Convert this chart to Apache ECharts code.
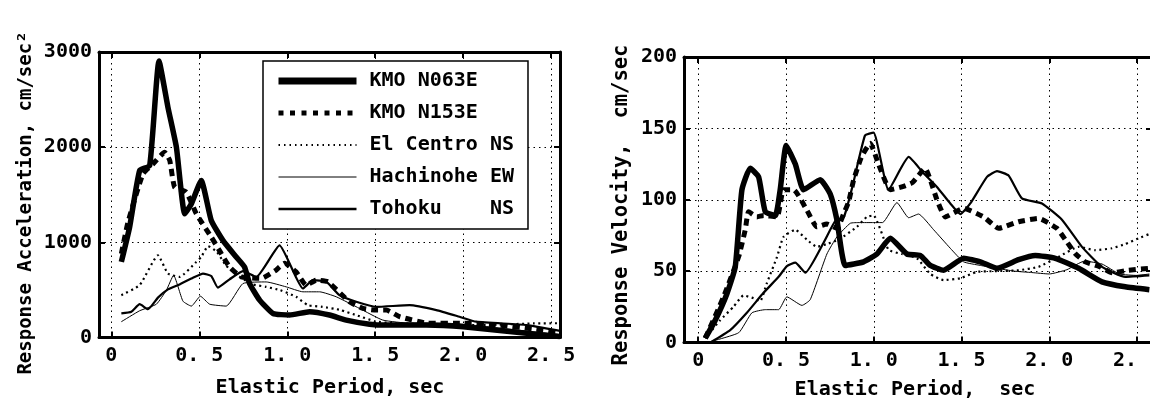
<!DOCTYPE html>
<html>
<head>
<meta charset="utf-8">
<script src="https://cdn.jsdelivr.net/npm/echarts@6/dist/echarts.min.js"></script>
<style>
html, body { margin: 0; padding: 0; background: #fff; }
#main { width: 1150px; height: 408px; }
</style>
</head>
<body>
<div id="main"></div>
<script>
// 周期轴刻度
var periodTicks = [0, 0.5, 1.0, 1.5, 2.0, 2.5];
var names = ['KMO N063E', 'KMO N153E', 'El Centro NS', 'Hachinohe EW', 'Tohoku    NS'];

// 加速度反应谱 (cm/sec2)
var kmo063A_T = [0.057, 0.104, 0.161, 0.218, 0.271, 0.322, 0.37, 0.417, 0.455, 0.511, 0.568, 0.634, 0.71, 0.757, 0.786, 0.843, 0.919, 1.013, 1.127, 1.24, 1.335, 1.468, 1.562, 1.79, 2.0, 2.36, 2.55];
var kmo063A = [794, 1160, 1754, 1806, 2906, 2417, 1998, 1300, 1405, 1649, 1230, 1021, 846, 741, 567, 393, 253, 236, 271, 236, 183, 140, 131, 131, 113, 44, 10];
var kmo153A_T = [0.057, 0.095, 0.18, 0.237, 0.303, 0.332, 0.36, 0.426, 0.483, 0.568, 0.625, 0.672, 0.739, 0.852, 0.93, 0.985, 1.05, 1.108, 1.165, 1.23, 1.354, 1.43, 1.506, 1.563, 1.64, 1.8, 2.0, 2.2, 2.4, 2.55];
var kmo153A = [880, 1213, 1719, 1824, 1946, 1861, 1579, 1527, 1300, 1056, 881, 742, 637, 621, 700, 780, 690, 550, 602, 585, 375, 306, 288, 288, 218, 150, 150, 130, 90, 50];
var centroA_T = [0.057, 0.161, 0.265, 0.322, 0.388, 0.483, 0.511, 0.55, 0.6, 0.65, 0.72, 0.8, 0.88, 0.96, 1.05, 1.117, 1.2, 1.3, 1.4, 1.5, 1.6, 1.8, 2.0, 2.2, 2.4, 2.55];
var centroA = [445, 550, 864, 672, 637, 794, 846, 960, 900, 760, 650, 560, 532, 497, 428, 340, 322, 290, 230, 170, 150, 140, 130, 135, 148, 150];
var hachiA_T = [0.057, 0.161, 0.256, 0.313, 0.354, 0.407, 0.455, 0.506, 0.559, 0.653, 0.748, 0.88, 0.994, 1.089, 1.184, 1.278, 1.41, 1.543, 1.7, 1.9, 2.0, 2.2, 2.4, 2.55];
var hachiA = [166, 281, 350, 497, 654, 382, 330, 434, 350, 330, 567, 584, 532, 480, 480, 428, 306, 183, 150, 150, 140, 100, 60, 30];
var tohokuA_T = [0.057, 0.114, 0.161, 0.208, 0.265, 0.322, 0.388, 0.464, 0.521, 0.568, 0.606, 0.672, 0.748, 0.824, 0.956, 1.089, 1.146, 1.222, 1.297, 1.392, 1.506, 1.695, 1.847, 1.979, 2.074, 2.36, 2.55];
var tohokuA = [253, 271, 350, 297, 419, 506, 558, 628, 672, 646, 524, 611, 698, 637, 969, 515, 602, 585, 445, 375, 322, 340, 288, 218, 166, 131, 70];

// 速度反应谱 (cm/sec)
var kmo063V_T = [0.04, 0.097, 0.163, 0.211, 0.249, 0.296, 0.344, 0.382, 0.439, 0.467, 0.501, 0.553, 0.6, 0.695, 0.752, 0.79, 0.838, 0.942, 1.018, 1.094, 1.189, 1.265, 1.322, 1.398, 1.512, 1.607, 1.702, 1.825, 1.92, 2.034, 2.167, 2.3, 2.433, 2.57];
var kmo063V = [3, 15.6, 34, 53, 107, 122, 116, 91.6, 89, 107, 138, 125, 107, 114, 104, 86, 54, 56.5, 62, 73, 62, 61, 54, 50.6, 59, 56.5, 52, 58, 61, 59, 52, 42.5, 39, 37];
var kmo153V_T = [0.04, 0.144, 0.23, 0.268, 0.287, 0.334, 0.373, 0.449, 0.486, 0.543, 0.619, 0.676, 0.733, 0.79, 0.828, 0.857, 0.885, 0.93, 0.98, 1.027, 1.094, 1.16, 1.22, 1.293, 1.322, 1.36, 1.408, 1.512, 1.626, 1.711, 1.825, 1.939, 2.043, 2.1, 2.15, 2.205, 2.29, 2.357, 2.452, 2.57];
var kmo153V = [3, 31.9, 60, 79, 91.6, 88, 89, 88, 107, 107, 92.7, 81, 83, 80, 90, 98.6, 113.7, 130, 139.5, 125, 107, 109, 112, 122, 114, 100, 88, 94, 88, 80, 84.6, 86.9, 80, 70.5, 62, 56.5, 53, 48.8, 50.6, 52];
var centroV_T = [0.04, 0.125, 0.201, 0.258, 0.315, 0.353, 0.391, 0.449, 0.486, 0.553, 0.619, 0.676, 0.733, 0.8, 0.904, 0.961, 0.999, 1.084, 1.16, 1.246, 1.322, 1.398, 1.493, 1.588, 1.7, 1.825, 1.939, 2.053, 2.167, 2.262, 2.357, 2.433, 2.509, 2.57];
var centroV = [3, 15.6, 25, 33, 31, 28.9, 41.6, 60, 74, 79, 72, 67, 69, 72, 81, 88, 89, 65, 62, 59, 48, 43.7, 45, 49.5, 50, 50.6, 53, 60, 67, 64.7, 66, 69, 73, 76];
var hachiV_T = [0.05, 0.23, 0.306, 0.382, 0.458, 0.505, 0.591, 0.638, 0.733, 0.79, 0.866, 0.92, 1.0, 1.05, 1.132, 1.199, 1.255, 1.341, 1.436, 1.512, 1.607, 1.7, 1.8, 1.9, 2.0, 2.1, 2.2, 2.3, 2.4, 2.5, 2.57];
var hachiV = [0, 6.8, 20.8, 23, 23, 32, 26, 30, 62, 74, 83.5, 84, 84, 84, 98, 87.4, 90, 79, 66, 56.5, 54, 52, 50, 49, 48, 51, 57, 55, 48, 47, 48];
var tohokuV_T = [0.07, 0.182, 0.277, 0.372, 0.458, 0.505, 0.553, 0.61, 0.714, 0.78, 0.83, 0.88, 0.95, 0.999, 1.084, 1.199, 1.284, 1.36, 1.436, 1.493, 1.55, 1.645, 1.702, 1.768, 1.844, 1.958, 2.072, 2.186, 2.3, 2.433, 2.57];
var tohokuV = [0, 8.6, 20.8, 34.8, 46, 53.5, 55.9, 48.9, 69.9, 85, 88, 110, 145, 147, 107, 130, 118.5, 109, 97.4, 90, 97.4, 116, 120, 117, 101, 97.4, 86, 67, 53, 46, 47];

var FONT = 'DejaVu Sans Mono';

// 线型
var styles = [
    { color: '#000', width: 5.5, type: 'solid' },
    { color: '#000', width: 5, type: [7, 5] },
    { color: '#000', width: 2.2, type: [2, 3.5] },
    { color: '#000', width: 1, type: 'solid' },
    { color: '#000', width: 2.2, type: 'solid' }
];

function pairs(xs, ys) {
    var d = [];
    xs.forEach(function(x, i) {
        d.push([x, ys[i]]);
    });
    return d;
}

function periodAxis(grid, pos, min, max, main) {
    return {
        type: 'value',
        gridIndex: grid,
        position: pos,
        min: min,
        max: max,
        axisLine: { show: true, onZero: false, lineStyle: { color: '#000', width: 3 } },
        axisTick: { show: true, inside: true, length: 6, customValues: periodTicks, lineStyle: { color: '#000', width: 2 } },
        axisLabel: {
            show: main,
            customValues: periodTicks,
            margin: 8,
            color: '#000',
            fontFamily: FONT,
            fontWeight: 'bold',
            fontSize: 20,
            formatter: function(v) {
                return v === 0 ? '0' : v.toFixed(1).replace('.', '. ');
            }
        },
        splitLine: { show: main, lineStyle: { color: '#000', width: 1, type: [1.5, 4] } }
    };
}

function valueAxis(grid, pos, max, step, main) {
    return {
        type: 'value',
        gridIndex: grid,
        position: pos,
        min: 0,
        max: max,
        interval: step,
        axisLine: { show: true, onZero: false, lineStyle: { color: '#000', width: 3 } },
        axisTick: { show: true, inside: true, length: 6, lineStyle: { color: '#000', width: 2 } },
        axisLabel: {
            show: main, margin: 7, color: '#000', fontFamily: FONT, fontWeight: 'bold', fontSize: 20,
            formatter: function(v) { return String(v); }
        },
        splitLine: { show: main, lineStyle: { color: '#000', width: 1, type: [1.5, 4] } }
    };
}

function makeSeries(name, idx, axis, xs, ys) {
    return {
        name: name,
        type: 'line',
        xAxisIndex: axis,
        yAxisIndex: axis,
        symbol: 'none',
        smooth: 0.15,
        animation: false,
        itemStyle: { color: '#000' },
        lineStyle: styles[idx],
        data: pairs(xs, ys)
    };
}

var myChart = echarts.init(document.getElementById('main'));
var option = {
    backgroundColor: '#fff',
    animation: false,
    color: ['#000'],
    grid: [
        { left: 99, top: 52, width: 461, bottom: 70.5, outerBoundsMode: 'none', containLabel: false },
        { left: 684, top: 57, width: 468, bottom: 65.5, outerBoundsMode: 'none', containLabel: false }
    ],
    xAxis: [
        periodAxis(0, 'bottom', -0.07, 2.55, true),
        periodAxis(0, 'top', -0.07, 2.55, false),
        periodAxis(1, 'bottom', -0.081, 2.585, true),
        periodAxis(1, 'top', -0.081, 2.585, false)
    ],
    yAxis: [
        valueAxis(0, 'left', 3000, 1000, true),
        valueAxis(0, 'right', 3000, 1000, false),
        valueAxis(1, 'left', 200, 50, true),
        valueAxis(1, 'right', 200, 50, false)
    ],
    legend: {
        data: [
            { name: names[0], lineStyle: { width: 7 } },
            { name: names[1], lineStyle: { width: 5, type: [5, 6.5] } },
            { name: names[2], lineStyle: { width: 2, type: [1.5, 4] } },
            { name: names[3], lineStyle: { width: 1 } },
            { name: names[4], lineStyle: { width: 2.5 } }
        ],
        orient: 'vertical',
        left: 263,
        top: 61,
        backgroundColor: '#fff',
        borderColor: '#000',
        borderWidth: 1.5,
        borderRadius: 0,
        padding: [10, 14, 10, 12],
        itemGap: 12,
        itemWidth: 78,
        itemHeight: 20,
        selectedMode: false,
        itemStyle: { opacity: 0 },
        textStyle: { color: '#000', fontFamily: FONT, fontWeight: 'bold', fontSize: 20, padding: [0, 0, 0, 8] }
    },
    graphic: [
        { type: 'text', x: 26, y: 203, rotation: Math.PI / 2,
          style: { text: 'Response Acceleration, cm/sec\u00b2', fontFamily: FONT, fontWeight: 'bold', fontSize: 19, fill: '#000', align: 'center', verticalAlign: 'middle' } },
        { type: 'text', x: 622, y: 205, rotation: Math.PI / 2,
          style: { text: 'Response Velocity,  cm/sec', fontFamily: FONT, fontWeight: 'bold', fontSize: 20.5, fill: '#000', align: 'center', verticalAlign: 'middle' } },
        { type: 'text', x: 330, y: 388,
          style: { text: 'Elastic Period, sec', fontFamily: FONT, fontWeight: 'bold', fontSize: 20, fill: '#000', align: 'center', verticalAlign: 'middle' } },
        { type: 'text', x: 915, y: 390,
          style: { text: 'Elastic Period,  sec', fontFamily: FONT, fontWeight: 'bold', fontSize: 20, fill: '#000', align: 'center', verticalAlign: 'middle' } }
    ],
    series: [
        makeSeries(names[0], 0, 0, kmo063A_T, kmo063A),
        makeSeries(names[1], 1, 0, kmo153A_T, kmo153A),
        makeSeries(names[2], 2, 0, centroA_T, centroA),
        makeSeries(names[3], 3, 0, hachiA_T, hachiA),
        makeSeries(names[4], 4, 0, tohokuA_T, tohokuA),
        makeSeries(names[0], 0, 2, kmo063V_T, kmo063V),
        makeSeries(names[1], 1, 2, kmo153V_T, kmo153V),
        makeSeries(names[2], 2, 2, centroV_T, centroV),
        makeSeries(names[3], 3, 2, hachiV_T, hachiV),
        makeSeries(names[4], 4, 2, tohokuV_T, tohokuV)
    ]
};

// 为echarts对象加载数据
myChart.setOption(option);
</script>
</body>
</html>
